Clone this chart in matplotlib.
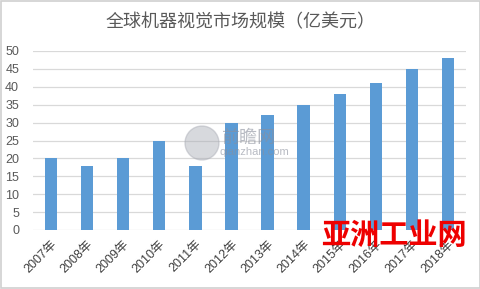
import matplotlib
matplotlib.use("Agg")
import matplotlib.pyplot as plt
from matplotlib.patches import Rectangle, Ellipse
import numpy as np

plt.rcParams['font.family'] = ['Liberation Sans', 'Noto Sans CJK SC', 'DejaVu Sans']

# data
years = ["2007年", "2008年", "2009年", "2010年", "2011年", "2012年",
         "2013年", "2014年", "2015年", "2016年", "2017年", "2018年"]
market_size = [20, 18, 20, 25, 18, 30, 32, 35, 38, 41, 45, 48]
y_ticks = [0, 5, 10, 15, 20, 25, 30, 35, 40, 45, 50]

title = "全球机器视觉市场规模（亿美元）"
text_color = "#595959"
bar_color = "#5B9BD5"
grid_color = "#d9d9d9"

fig = plt.figure(figsize=(4.81, 2.89), dpi=100)
ax = fig.add_axes([33 / 481, 1 - 230 / 289, 433 / 481, 179 / 289])

x = np.arange(len(years))
ax.bar(x, market_size, width=0.34, color=bar_color, zorder=2)

ax.set_xlim(-0.5, len(years) - 0.5)
ax.set_ylim(0, 50)
ax.set_yticks(y_ticks)
ax.set_yticklabels([str(v) for v in y_ticks], fontsize=9, color=text_color)
ax.set_xticks(x)
ax.set_xticklabels(years, fontsize=9, color="#404040", rotation=45,
                   ha="right", va="top", rotation_mode="anchor")

# gridlines, no frame
ax.grid(axis="y", color=grid_color, linewidth=0.9, zorder=0)
for side in ["top", "right", "left", "bottom"]:
    ax.spines[side].set_visible(False)
ax.tick_params(length=0)
ax.tick_params(axis="y", pad=10)
ax.tick_params(axis="x", pad=6)

fig.text(0.5, 1 - 22 / 289, title, ha="center", va="center",
         fontsize=13, color=text_color, family=['Noto Sans CJK SC'])

# watermarks
fig.patches.append(Ellipse((202 / 481, 1 - 143 / 289), 34 / 481, 34 / 289,
                           transform=fig.transFigure, color="#a8abb4",
                           alpha=0.45, zorder=5))
fig.text(221 / 481, 1 - 138 / 289, "前瞻网", ha="left", va="center",
         fontsize=13, color="#8a8f9c", alpha=0.6, family=['Noto Sans CJK SC'],
         zorder=5)
fig.text(220 / 481, 1 - 152 / 289, "qianzhan.com", ha="left", va="center",
         fontsize=8, color="#8a8f9c", alpha=0.6, zorder=5)
fig.text(394 / 481, 1 - 235 / 289, "亚洲工业网", ha="center", va="center",
         fontsize=21, color="#ee0000", fontweight="bold",
         family=['Noto Sans CJK SC'], zorder=6)

# chart border
fig.patches.append(Rectangle((0.002, 0.003), 0.995, 0.993, transform=fig.transFigure,
                             fill=False, edgecolor="#d0d0d0", linewidth=1.2))

fig.savefig("out.png", dpi=100)
